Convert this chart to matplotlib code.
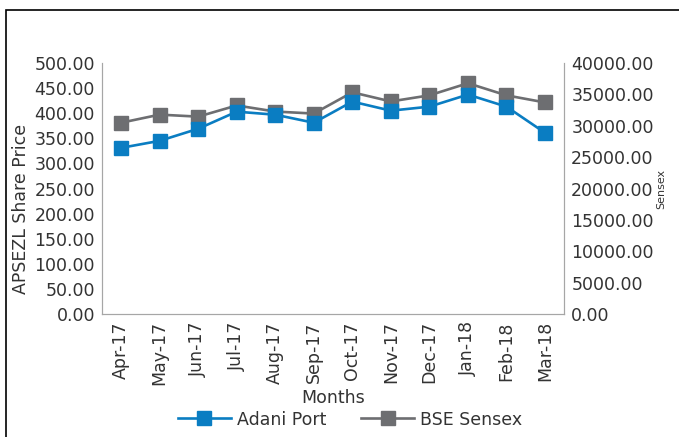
import matplotlib.pyplot as plt
from matplotlib.patches import Rectangle

months = ['Apr-17', 'May-17', 'Jun-17', 'Jul-17', 'Aug-17', 'Sep-17',
          'Oct-17', 'Nov-17', 'Dec-17', 'Jan-18', 'Feb-18', 'Mar-18']
adani = [331, 345, 369, 403, 397, 381, 423, 405, 413, 437, 413, 361]
sensex = [30480, 31770, 31450, 33230, 32260, 31940, 35320, 33870, 34840, 36770, 34840, 33710]

plt.rcParams['font.family'] = ['DejaVu Sans']

blue = '#0A7DC2'
gray = '#6D6E71'
spine_col = '#A6A6A6'
txt = '#333333'
fs = 12.5

fig = plt.figure(figsize=(6.79, 4.37), dpi=100)
ax = fig.add_axes([0.150, 0.281, 0.681, 0.575])
ax2 = ax.twinx()

x = list(range(len(months)))
l1, = ax.plot(x, adani, color=blue, lw=1.9, marker='s', ms=10, label='Adani Port')
l2, = ax2.plot(x, sensex, color=gray, lw=1.9, marker='s', ms=10, label='BSE Sensex')
ax.set_zorder(ax2.get_zorder() + 1)
ax.patch.set_visible(False)

ax.set_xlim(-0.5, 11.5)
ax.set_ylim(0, 500)
ax2.set_ylim(0, 40000)
ax.set_yticks(range(0, 501, 50))
ax2.set_yticks(range(0, 40001, 5000))
ax.set_yticklabels([f'{v:.2f}' for v in range(0, 501, 50)])
ax2.set_yticklabels([f'{v:.2f}' for v in range(0, 40001, 5000)])
ax.set_xticks(x)
ax.set_xticklabels(months, rotation=90)

for a in (ax, ax2):
    a.tick_params(length=0, labelsize=fs, colors=txt, pad=5)
    a.spines['top'].set_visible(False)
    for s in ('left', 'right', 'bottom'):
        a.spines[s].set_color(spine_col)

ax.set_xlabel('Months', fontsize=fs, color=txt, labelpad=3)
ax.set_ylabel('APSEZL Share Price', fontsize=fs, color=txt)
ax.yaxis.set_label_coords(-0.155, 0.42)
ax2.set_ylabel('Sensex', fontsize=8, color=txt, labelpad=2)

fig.legend([l1, l2], ['Adani Port', 'BSE Sensex'], loc='center', bbox_to_anchor=(0.515, 0.04),
           ncol=2, frameon=False, fontsize=fs, handlelength=3.1, handletextpad=0.3,
           columnspacing=2.0, labelcolor=txt)

fig.patches.append(Rectangle((6 / 679, -0.05), 1.2, 1 - 10 / 437 + 0.05,
                             transform=fig.transFigure, fill=False, edgecolor='black', lw=1.2))

fig.savefig('out.png', dpi=100)
